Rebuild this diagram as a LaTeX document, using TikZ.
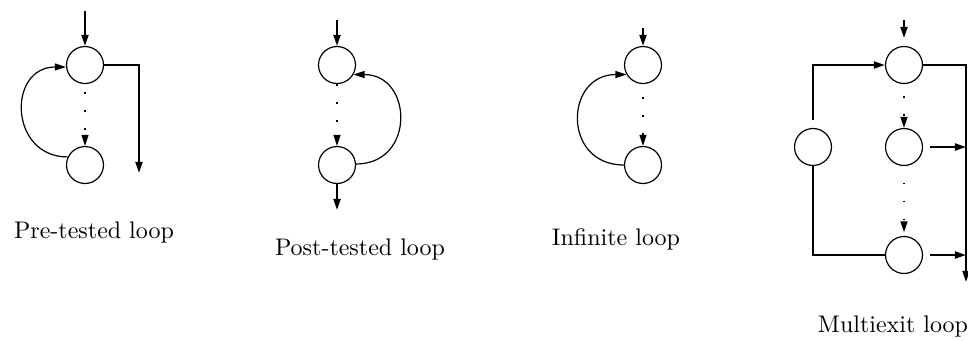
\documentclass[tikz,border=0pt]{standalone}
\usetikzlibrary{arrows.meta}

\tikzset{
    blob/.style={circle, draw, line width=0.5pt, inner sep=0pt, minimum size=15.4pt},
    flow/.style={line width=0.85pt, -{Triangle[length=4.6pt,width=2.9pt]}},
    flowplain/.style={line width=0.85pt},
    back/.style={line width=0.5pt, -{Triangle[length=4.6pt,width=2.9pt]}},
    dotflow/.style={line width=0.6pt, dash pattern=on 0.6pt off 6.9pt, dash phase=#1,
        -{Triangle[length=4.6pt,width=2.9pt]}},
    caption/.style={anchor=base, inner sep=0pt}
}

\begin{document}
\begin{tikzpicture}[x=0.4167pt, y=-0.4167pt]
    \useasboundingbox (0,0) rectangle (968,340);

    % Pre-tested loop
    \node[blob] (pretop) at (85,65) {};
    \node[blob] (prebot) at (85,165) {};
    \coordinate (prein) at (85,11);
    \coordinate (preout) at (139,173);
    \draw[flow] (prein) -- (pretop);
    \draw[flow] (pretop.east) -| (preout);
    \draw[dotflow=4pt] (pretop.south) -- (prebot.north);
    \draw[back] (prebot.155) to[out=180, in=180, looseness=1.67] (pretop.186);
    \node[caption] (precap) at (94,238) {Pre-tested loop};

    % Post-tested loop
    \node[blob] (posttop) at (337,65) {};
    \node[blob] (postbot) at (337,165) {};
    \coordinate (postin) at (337,20);
    \coordinate (postout) at (337,210);
    \draw[flow] (postin) -- (posttop);
    \draw[flow] (postbot) -- (postout);
    \draw[dotflow=0pt] (posttop.south) -- (postbot.north);
    \draw[back] (postbot.3) to[out=0, in=0, looseness=1.7] (posttop.-30);
    \node[caption] (postcap) at (360,255) {Post-tested loop};

    % Infinite loop
    \node[blob] (inftop) at (643,65) {};
    \node[blob] (infbot) at (643,165) {};
    \coordinate (infin) at (643,28);
    \draw[flow] (infin) -- (inftop);
    \draw[dotflow=2pt] (inftop.south) -- (infbot.north);
    \draw[back] (infbot.180) to[out=180, in=180, looseness=1.75] (inftop.210);
    \node[caption] (infcap) at (616,245) {Infinite loop};

    % Multiexit loop
    \node[blob] (multop) at (904,65) {};
    \node[blob] (mulmid) at (904,147) {};
    \node[blob] (mulbot) at (904,255) {};
    \node[blob] (mulside) at (813,147) {};
    \coordinate (mulin) at (904,20);
    \coordinate (mulout) at (966,282);
    \draw[flow, shorten >=3.3pt] (mulin) -- (multop);
    \draw[flow, shorten <=3.3pt] (mulside.north) |- (multop.west);
    \draw[flowplain] (mulside.south) |- (mulbot.west);
    \draw[flow] (multop.east) -| (mulout);
    \draw[flow, shorten <=3pt] (mulmid.east) -- (mulmid.east -| mulout);
    \draw[flow, shorten <=3pt] (mulbot.east) -- (mulbot.east -| mulout);
    \draw[dotflow=2.5pt] (multop.south) -- (mulmid.north);
    \draw[dotflow=0.6pt, shorten >=1.5pt] (mulmid.south) -- (mulbot.north);
    \node[caption] (mulcap) at (893,332) {Multiexit loop};
\end{tikzpicture}
\end{document}
